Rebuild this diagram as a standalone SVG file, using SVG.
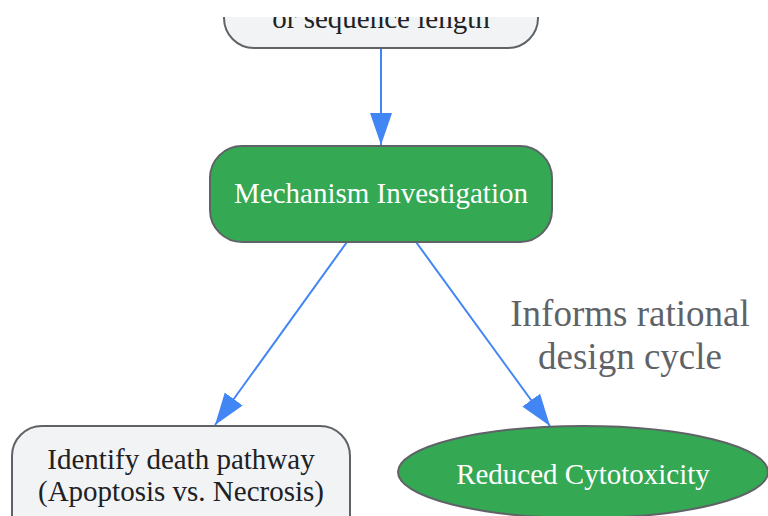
<svg xmlns="http://www.w3.org/2000/svg" width="768" height="516" viewBox="0 0 768 516">
<style>
.grey{fill:#f1f3f4;stroke:#5f6368;stroke-width:2}
.green{fill:#34a853;stroke:#5f6368;stroke-width:2}
.t{font-family:"Liberation Serif","Times New Roman",serif;font-size:29px;text-anchor:middle}
.dark{fill:#202124}
.light{fill:#ffffff}
.edge{stroke:#4285f4;stroke-width:2;fill:none}
.lbl{font-family:"Liberation Serif","Times New Roman",serif;font-size:37px;text-anchor:middle;fill:#5f6368}
</style>
<defs>
<marker id="arr" markerUnits="userSpaceOnUse" markerWidth="34" markerHeight="24" refX="32" refY="11" orient="auto">
<path d="M0,0 L32,11 L0,22 Z" fill="#4285f4"/>
</marker>
<clipPath id="topclip"><rect x="0" y="17" width="768" height="100"/></clipPath>
</defs>
<rect width="768" height="516" fill="#ffffff"/>
<g id="connectors">
<path class="edge" d="M381,48 L381,145" marker-end="url(#arr)"/>
<path class="edge" d="M347,242 L215,425" marker-end="url(#arr)"/>
<path class="edge" d="M416,242 L550,426" marker-end="url(#arr)"/>
<text class="lbl" x="630" y="326">Informs rational</text>
<text class="lbl" x="630" y="369">design cycle</text>
</g>
<g id="node-top" clip-path="url(#topclip)">
<rect class="grey" x="224" y="-60" width="314" height="108" rx="30"/>
<text class="t dark" x="381" y="28">or sequence length</text>
</g>
<g id="node-mechanism">
<rect class="green" x="210" y="146" width="342" height="96" rx="32"/>
<text class="t light" x="381" y="203">Mechanism Investigation</text>
</g>
<g id="node-death">
<rect class="grey" x="12" y="426" width="338" height="120" rx="30"/>
<text class="t dark" x="181" y="469">Identify death pathway</text>
<text class="t dark" x="181" y="501">(Apoptosis vs. Necrosis)</text>
</g>
<g id="node-reduced">
<ellipse class="green" cx="583" cy="472" rx="185" ry="46"/>
<text class="t light" x="583" y="484">Reduced Cytotoxicity</text>
</g>
</svg>
